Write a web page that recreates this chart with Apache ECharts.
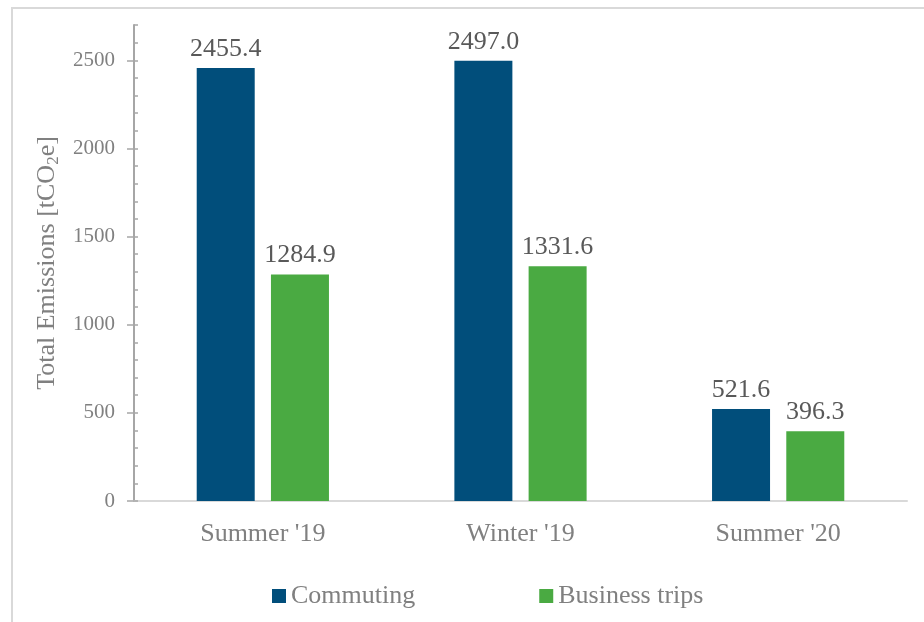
<!DOCTYPE html>
<html>
<head>
<meta charset="utf-8">
<script src="https://cdn.jsdelivr.net/npm/echarts@6/dist/echarts.min.js"></script>
<style>
  html, body { margin: 0; padding: 0; background: #ffffff; }
  #chart { width: 924px; height: 622px; }
</style>
</head>
<body>
<div id="chart"></div>
<script>
// Emissions per survey period, tCO2e
const periods = ["Summer '19", "Winter '19", "Summer '20"];
const commuting = [2455.4, 2497.0, 521.6];
const businessTrips = [1284.9, 1331.6, 396.3];
const majorTicks = [0, 500, 1000, 1500, 2000, 2500];

const FONT = 'Liberation Serif';
const GRID = { left: 134, right: 17, top: 25, bottom: 121 };

const chart = echarts.init(document.getElementById('chart'), null, { renderer: 'canvas' });

const valueLabel = {
  show: true,
  position: 'top',
  distance: 6,
  fontFamily: FONT,
  fontSize: 26,
  color: '#595959',
  formatter: p => p.value.toFixed(1)
};

chart.setOption({
  animation: false,
  backgroundColor: '#ffffff',
  textStyle: { fontFamily: FONT },
  graphic: [{
    type: 'rect',
    shape: { x: 12, y: 8, width: 930, height: 630 },
    style: { fill: 'none', stroke: '#d9d9d9', lineWidth: 2 },
    silent: true,
    z: -10
  }],
  grid: GRID,
  legend: {
    left: 267,
    top: 578,
    icon: 'rect',
    itemWidth: 14,
    itemHeight: 14,
    itemGap: 124,
    textStyle: { fontFamily: FONT, fontSize: 26, color: '#808080' },
    data: ['Commuting', 'Business trips']
  },
  xAxis: {
    type: 'category',
    data: periods,
    axisLine: { show: true, lineStyle: { color: '#d9d9d9', width: 2 } },
    axisTick: { show: false },
    axisLabel: { margin: 20, fontFamily: FONT, fontSize: 26, color: '#808080' }
  },
  yAxis: [{
    type: 'value',
    min: 0,
    max: 2700,
    interval: 100,
    name: '{a|Total Emissions [tCO}{s|2}{a|e]}',
    nameLocation: 'middle',
    nameGap: 65,
    nameRotate: 90,
    nameTextStyle: {
      rich: {
        a: { fontFamily: FONT, fontSize: 26, color: '#808080', lineHeight: 30 },
        s: { fontFamily: FONT, fontSize: 17, color: '#808080', verticalAlign: 'bottom', lineHeight: 30 }
      }
    },
    axisLine: { show: true, lineStyle: { color: '#a6a6a6', width: 2 } },
    axisTick: { show: true, length: 7, customValues: majorTicks, lineStyle: { color: '#a6a6a6', width: 1.5 } },
    axisLabel: {
      customValues: majorTicks,
      margin: 19,
      fontFamily: FONT,
      fontSize: 21,
      color: '#808080',
      formatter: v => String(v)
    },
    splitLine: { show: false }
  }, {
    // inner minor ticks every 100
    type: 'value',
    position: 'left',
    min: 0,
    max: 2700,
    interval: 100,
    axisLine: { show: false },
    axisTick: { show: true, inside: true, length: 4, lineStyle: { color: '#a6a6a6', width: 1.5 } },
    axisLabel: { show: false },
    splitLine: { show: false }
  }],
  series: [{
    name: 'Commuting',
    type: 'bar',
    data: commuting,
    barWidth: 58,
    barGap: '28%',
    itemStyle: { color: '#014e7b' },
    label: valueLabel
  }, {
    name: 'Business trips',
    type: 'bar',
    data: businessTrips,
    barWidth: 58,
    barGap: '28%',
    itemStyle: { color: '#4aaa42' },
    label: valueLabel
  }]
});
</script>
</body>
</html>
